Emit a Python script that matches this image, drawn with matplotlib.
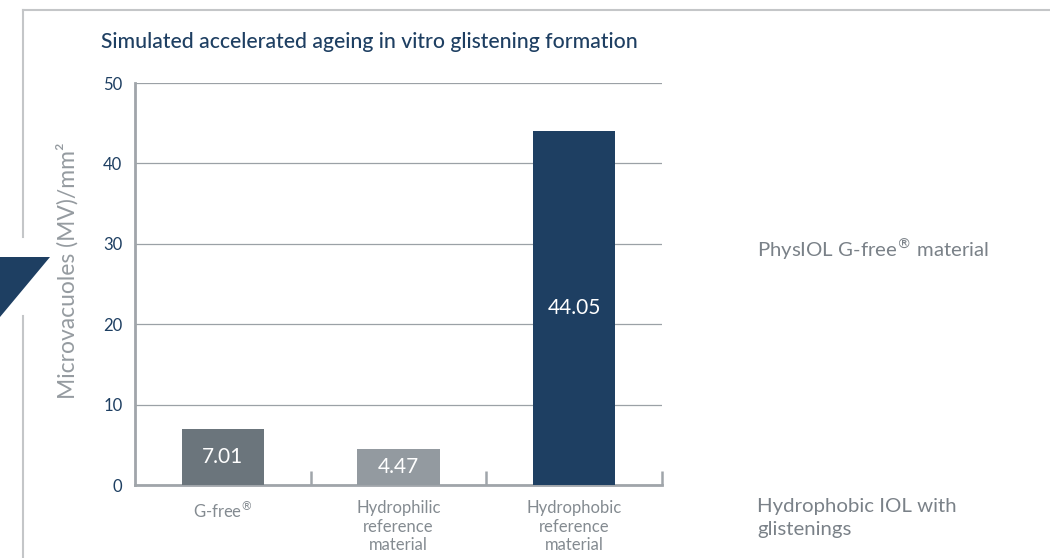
import matplotlib
matplotlib.use("Agg")
import matplotlib.pyplot as plt
from matplotlib.lines import Line2D
from matplotlib.patches import Polygon

# data
categories = ["G-free$^{\u00ae}$", "Hydrophilic\nreference\nmaterial", "Hydrophobic\nreference\nmaterial"]
values = [7.01, 4.47, 44.05]
bar_colors = ["#6b757c", "#939aa0", "#1e3f62"]
y_ticks = [0, 10, 20, 30, 40, 50]

NAVY = "#1e3f62"
GREY_TXT = "#848b91"
FRAME = "#c4c6c8"

plt.rcParams["font.family"] = ["Lato", "DejaVu Sans"]
plt.rcParams["mathtext.fontset"] = "custom"
plt.rcParams["mathtext.rm"] = "DejaVu Sans"

fig = plt.figure(figsize=(10.5, 5.58), dpi=100)
W, H = 1050, 558

ax = fig.add_axes([135 / W, 1 - 485 / H, 527 / W, 402 / H])

x = list(range(len(categories)))
bars = ax.bar(x, values, width=0.47, color=bar_colors, zorder=3)

for b, v in zip(bars, values):
    ax.text(b.get_x() + b.get_width() / 2, v / 2, f"{v:.2f}",
            ha="center", va="center", color="white", fontsize=15, zorder=4)

ax.set_xlim(-0.5, 2.5)
ax.set_ylim(0, 50)
ax.set_yticks(y_ticks)
ax.set_yticklabels([str(t) for t in y_ticks], color=NAVY, fontsize=12)
ax.set_xticks(x)
ax.set_xticklabels(categories, color=GREY_TXT, fontsize=12, linespacing=1.2)
ax.set_xticks([0.5, 1.5, 2.5], minor=True)
ax.tick_params(axis="x", which="major", length=0, pad=11)
ax.tick_params(axis="x", which="minor", direction="in", length=10, width=1.8, color="#a0a5aa")
ax.tick_params(axis="y", length=0, pad=9)

ax.grid(axis="y", color="#9ba1a6", linewidth=0.9, zorder=0)
for s in ["top", "right"]:
    ax.spines[s].set_visible(False)
for s in ["left", "bottom"]:
    ax.spines[s].set_color("#a0a5aa")
    ax.spines[s].set_linewidth(2)

ax.set_ylabel("Microvacuoles (MV)/mm\u00b2", color="#959ba0", fontsize=16.5)
ax.yaxis.set_label_coords(-0.107, 0.532)

fig.text(101 / W, 1 - 42 / H, "Simulated accelerated ageing in vitro glistening formation",
         color=NAVY, fontsize=15.2, fontweight="medium", va="center", ha="left")

fig.text(757 / W, 1 - 249 / H, "PhysIOL G-free$^{\u00ae}$ material",
         color="#7a8188", fontsize=14.7, va="center", ha="left")
fig.text(757 / W, 1 - 518 / H, "Hydrophobic IOL with\nglistenings",
         color="#7a8188", fontsize=14.7, va="center", ha="left", linespacing=1.45)

# page frame and corner marker
fig.add_artist(Line2D([23 / W, 1.0], [1 - 10 / H] * 2, color=FRAME, linewidth=1.5))
fig.add_artist(Line2D([23 / W] * 2, [1 - 10 / H, 1 - 237 / H], color=FRAME, linewidth=1.5))
fig.add_artist(Line2D([23 / W] * 2, [1 - 316 / H, 0.0], color=FRAME, linewidth=1.5))
fig.add_artist(Polygon([(0, 1 - 257 / H), (50 / W, 1 - 257 / H), (0, 1 - 317 / H)],
                       closed=True, facecolor=NAVY, edgecolor="none",
                       transform=fig.transFigure))

fig.savefig("out.png", dpi=100)
